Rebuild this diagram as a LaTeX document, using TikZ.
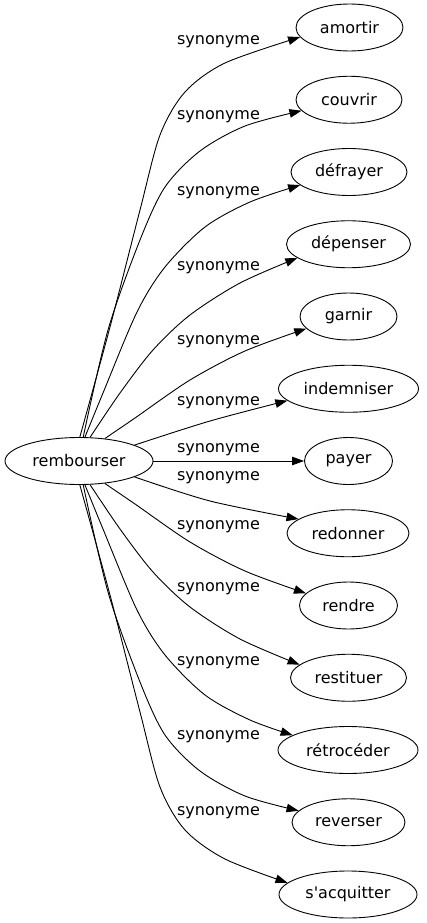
\documentclass[tikz,border=0pt]{standalone}
\usepackage{fontspec}
\setmainfont{DejaVu Sans}
\usetikzlibrary{shapes.geometric,arrows.meta}
\begin{document}
\begin{tikzpicture}[x=1pt,y=-1pt,
  nd/.style={draw,ellipse,inner sep=0pt,minimum height=47pt,line width=0.9pt,font=\fontsize{16pt}{19pt}\selectfont},
  lbl/.style={inner sep=0pt,font=\fontsize{16pt}{19pt}\selectfont},
  edge/.style={draw,line width=0.9pt,-{Triangle[length=12pt,width=8.5pt]}}]
\useasboundingbox (0,0) rectangle (426,923);
\node[nd,minimum width=148pt] (reb) at (79,461) {rembourser};
\node[nd,minimum width=107pt] (am) at (349.5,27.5) {amortir};
\node[nd,minimum width=106pt] (co) at (349,99.75) {couvrir};
\node[nd,minimum width=116pt] (df) at (349,172) {défrayer};
\node[nd,minimum width=124pt] (dp) at (348.5,244.25) {dépenser};
\node[nd,minimum width=97pt] (ga) at (348.5,316.5) {garnir};
\node[nd,minimum width=140pt] (in) at (348.5,388.75) {indemniser};
\node[nd,minimum width=88pt] (pa) at (348.5,461) {payer};
\node[nd,minimum width=122pt] (rd) at (348,533.25) {redonner};
\node[nd,minimum width=98pt] (rn) at (348.5,605.5) {rendre};
\node[nd,minimum width=116pt] (rs) at (348.5,677.75) {restituer};
\node[nd,minimum width=140pt] (rt) at (348,750) {rétrocéder};
\node[nd,minimum width=113pt] (rv) at (348.5,822.25) {reverser};
\node[nd,minimum width=138pt] (sa) at (348,894.5) {s\textquotesingle acquitter};
% labels
\foreach \y in {42,117,193,268,342,403,450,478,527,589,663,737,813}
  \node[lbl] at (218.5,\y) {synonyme};
% top edges
\draw[edge] plot[smooth] coordinates {(reb.88) (110,327) (140,210) (160,135) (185,92) (225,63) (am.191)};
\draw[edge] plot[smooth] coordinates {(reb.80) (108,330) (140,240) (165,187) (200,151) (245,126) (co.193)};
\draw[edge] plot[smooth] coordinates {(reb.76) (103,393) (137,312) (165,267) (205,227) (250,202) (df.195)};
\draw[edge] plot[smooth] coordinates {(reb.65) (120,393) (153,350) (190,315) (240,283) (dp.195)};
\draw[edge] plot[smooth] coordinates {(reb.41) (135,418) (190,380) (245,351) (ga.196)};
\draw[edge] plot[smooth] coordinates {(reb.16) (210,421) (in.191)};
% middle
\draw[edge] (reb.east) -- (pa.west);
% bottom edges
\draw[edge] plot[smooth] coordinates {(reb.-16) (210,501) (rd.164)};
\draw[edge] plot[smooth] coordinates {(reb.-41) (135,504) (190,542) (245,571) (rn.164)};
\draw[edge] plot[smooth] coordinates {(reb.-65) (120,529) (153,572) (190,607) (240,639) (rs.165)};
\draw[edge] plot[smooth] coordinates {(reb.-76) (103,529) (137,610) (165,655) (205,695) (250,720) (rt.165)};
\draw[edge] plot[smooth] coordinates {(reb.-80) (108,592) (140,682) (165,735) (200,771) (245,796) (rv.167)};
\draw[edge] plot[smooth] coordinates {(reb.-88) (110,595) (140,712) (160,787) (185,830) (225,859) (sa.169)};
\end{tikzpicture}
\end{document}
